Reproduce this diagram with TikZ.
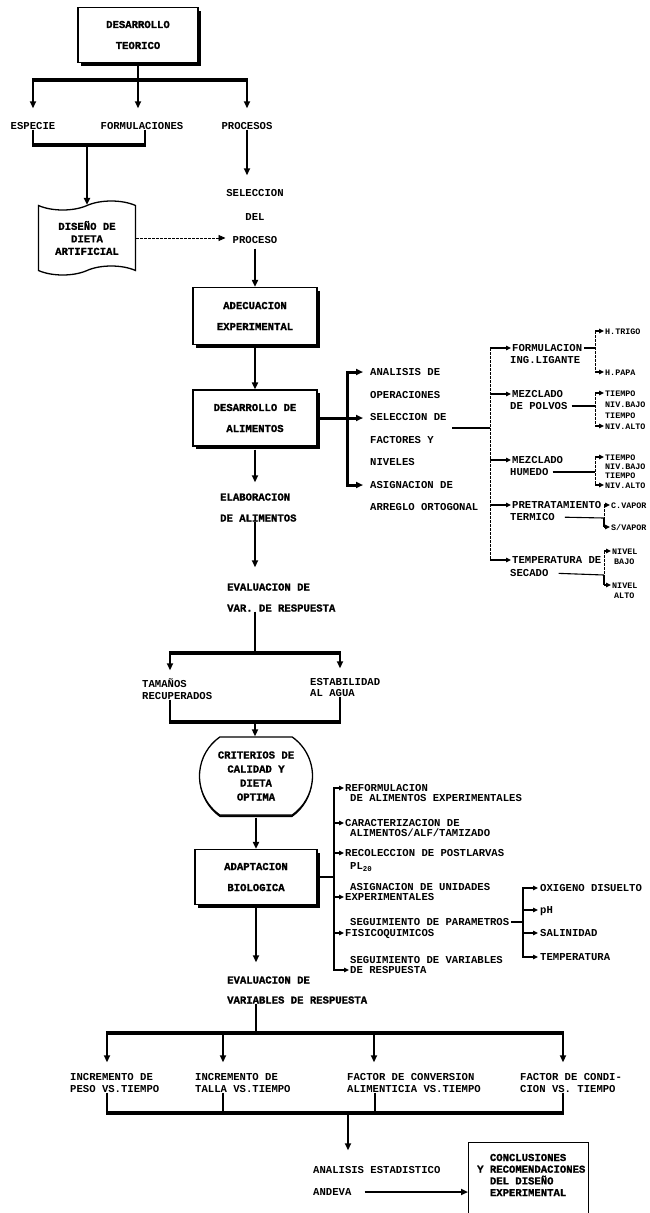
\documentclass[tikz,border=0pt]{standalone}
\usepackage{fontspec}
\setmainfont{Liberation Mono}
\newfontfamily\heavyfont{Liberation Mono}[BoldFeatures={FakeBold=1.3}]
\usetikzlibrary{arrows.meta,shapes.symbols,shapes.misc,shadows}
\begin{document}
\begin{tikzpicture}[x=1pt,y=-1pt,
  txt/.style={font=\fontsize{10.6}{12}\selectfont\bfseries, inner sep=0pt, text height=7pt, text depth=0pt},
  lt/.style={txt, anchor=west},
  ct/.style={txt, anchor=center},
  hlt/.style={lt, font=\fontsize{10.6}{12}\selectfont\heavyfont\bfseries},
  rt/.style={anchor=west, inner sep=0pt, text height=6pt, text depth=0pt, font=\fontsize{8.4}{10}\selectfont\bfseries},
  bar/.style={line width=4.5pt, shorten <=-1.2pt, shorten >=-1.2pt},
  vline/.style={line width=2.4pt},
  hvy/.style={line width=3pt},
  med/.style={line width=1.8pt},
  fine/.style={line width=1.1pt},
  dsh/.style={line width=0.9pt, dash pattern=on 2.5pt off 1.5pt},
  arr/.style={-{Triangle[length=7pt,width=6pt]}},
  sarr/.style={-{Triangle[length=5pt,width=4.5pt]}},
  sbox/.style={draw, line width=1.2pt, fill=white, minimum width=122pt, minimum height=55pt, align=center, inner sep=0pt, font=\fontsize{10.6}{21}\selectfont\heavyfont\bfseries, drop shadow={shadow xshift=3pt, shadow yshift=-3pt, fill=black, opacity=1}},
]
\fill[white] (0,0) rectangle (649,1213);
\useasboundingbox (0,0) rectangle (649,1213);

% ---------- top ----------
\node[sbox, minimum width=120pt] (A) at (138,35) {DESARROLLO\\TEORICO};
\node[ct] (esp) at (33,126) {ESPECIE};
\node[ct] (form) at (142,126) {FORMULACIONES};
\node[ct] (proc) at (247,126) {PROCESOS};
\coordinate (b1) at (138,80);
\coordinate (b1L) at (33,80);
\coordinate (b1R) at (247,80);
\draw[vline] (A.south) -- (b1);
\draw[bar] (b1L) -- (b1R);
\draw[vline,arr,shorten >=14pt] (b1L) -- (esp.north);
\draw[vline,arr,shorten >=14pt] (b1) -- (b1 |- form.north);
\draw[vline,arr,shorten >=14pt] (b1R) -- (proc.north);

\coordinate (j1L) at (33,145);
\coordinate (j1R) at (145,145);
\coordinate (j1) at (87,145);
\draw[vline] (esp.south) -- (j1L);
\draw[vline] (j1R |- form.south) -- (j1R);
\draw[bar] (j1L) -- (j1R);
\node[tape, draw, line width=1.3pt, fill=white, minimum width=97pt, minimum height=74pt,
  tape bend top=in and out, tape bend bottom=in and out, tape bend height=9pt,
  align=center, inner sep=0pt, font=\fontsize{10.6}{12.5}\selectfont\heavyfont\bfseries] (tape) at (87,238) {DISEÑO DE\\DIETA\\ARTIFICIAL};
\draw[vline,arr] (j1) -- (tape.north);

\node[ct] (sel1) at (255,193) {SELECCION};
\node[ct] (sel2) at (255,217) {DEL};
\node[ct] (sel3) at (255,240) {PROCESO};
\draw[vline,arr,shorten >=14pt] (proc.south) -- (proc.south |- sel1.north);
\draw[dsh,arr,shorten >=7pt] (tape.east) -- (tape.east -| sel3.west);

\node[sbox, minimum width=124pt, minimum height=57pt] (B) at (255,316) {ADECUACION\\EXPERIMENTAL};
\draw[vline,arr,shorten <=5pt] (sel3.south) -- (B.north);
\node[sbox, minimum width=124pt, minimum height=56pt] (C) at (255,418) {DESARROLLO DE\\ALIMENTOS};
\draw[vline,arr,shorten <=3pt] (B.south) -- (C.north);

\node[hlt] (el1) at (220,497) {ELABORACION};
\node[hlt] (el2) at (220,518) {DE ALIMENTOS};
\draw[vline,arr,shorten <=3pt,shorten >=11pt] (C.south) -- (C.south |- el1.north);
\node[hlt] (ev1) at (227,587) {EVALUACION DE};
\node[hlt] (ev2) at (227,608) {VAR. DE RESPUESTA};
\draw[vline,arr,shorten >=16pt] (C.south |- el2.south) -- (C.south |- ev1.north);

% ---------- right of C ----------
\coordinate (k1m) at (347,418);
\draw[hvy] (C.east) -- (k1m);
\node[lt] (r1) at (370,372) {ANALISIS DE};
\node[lt] (r2) at (370,395) {OPERACIONES};
\node[lt] (r3) at (370,417) {SELECCION DE};
\node[lt] (r4) at (370,440) {FACTORES Y};
\node[lt] (r5) at (370,462) {NIVELES};
\node[lt] (r6) at (370,485) {ASIGNACION DE};
\node[lt] (r7) at (370,507) {ARREGLO ORTOGONAL};
\draw[hvy,arr,shorten >=7pt] (k1m) |- (r1.west);
\draw[hvy,arr,shorten >=7pt] (k1m) |- (r6.west);
\draw[hvy,arr,shorten >=7pt] (k1m) -- (k1m -| r3.west);

\coordinate (s1) at (452,428);
\coordinate (k2m) at (490,428);
\coordinate (k2t) at (490,348);
\coordinate (k2b) at (490,560);
\draw[fine] (s1) -- (k2m);
\draw[dsh] (k2t) -- (k2b);
\node[lt] (q1a) at (512,348) {FORMULACION};
\node[lt] (q1b) at (510,360) {ING.LIGANTE};
\node[lt] (q2a) at (512,394) {MEZCLADO};
\node[lt] (q2b) at (510,406) {DE POLVOS};
\node[lt] (q3a) at (512,460) {MEZCLADO};
\node[lt] (q3b) at (510,472) {HUMEDO};
\node[lt] (q4a) at (512,505) {PRETRATAMIENTO};
\node[lt] (q4b) at (510,517) {TERMICO};
\node[lt] (q5a) at (512,560) {TEMPERATURA DE};
\node[lt] (q5b) at (510,573) {SECADO};
\foreach \q in {q1a,q2a,q3a,q4a,q5a}{
  \draw[fine,sarr,shorten >=1pt] (k2m |- \q.west) -- (\q.west);
}

% group 1
\coordinate (g1) at (595,348);
\coordinate (g1t) at (595,331);
\coordinate (g1b) at (595,372);
\draw[fine,shorten <=2pt] (q1a.east) -- (g1);
\draw[dsh] (g1t) -- (g1b);
\node[rt] (t11) at (605,331) {H.TRIGO};
\node[rt] (t12) at (605,372) {H.PAPA};
\draw[fine,sarr,shorten >=1pt] (g1t) -- (t11.west);
\draw[fine,sarr,shorten >=1pt] (g1b) -- (t12.west);
% group 2
\coordinate (g2) at (595,406);
\coordinate (g2t) at (595,393);
\coordinate (g2b) at (595,426);
\draw[fine,shorten <=4pt] (q2b.east) -- (g2);
\draw[dsh] (g2t) -- (g2b);
\node[rt] (t21) at (605,393) {TIEMPO};
\node[rt] (t22) at (605,404) {NIV.BAJO};
\node[rt] (t23) at (605,415) {TIEMPO};
\node[rt] (t24) at (605,426) {NIV.ALTO};
\draw[fine,sarr,shorten >=1pt] (g2t) -- (t21.west);
\draw[fine,sarr,shorten >=1pt] (g2b) -- (t24.west);
% group 3
\coordinate (g3) at (595,472);
\coordinate (g3t) at (595,457);
\coordinate (g3b) at (595,485);
\draw[fine,shorten <=4pt] (q3b.east) -- (g3);
\draw[dsh] (g3t) -- (g3b);
\node[rt] (t31) at (605,457) {TIEMPO};
\node[rt] (t32) at (605,466) {NIV.BAJO};
\node[rt] (t33) at (605,475) {TIEMPO};
\node[rt] (t34) at (605,485) {NIV.ALTO};
\draw[fine,sarr,shorten >=1pt] (g3t) -- (t31.west);
\draw[fine,sarr,shorten >=1pt] (g3b) -- (t34.west);
% group 4
\coordinate (g4) at (604,518);
\coordinate (g4t) at (604,505);
\coordinate (g4b) at (604,527);
\draw[fine,shorten <=10pt] (q4b.east) -- (g4);
\draw[dsh] (g4t) -- (g4);
\draw[fine] (g4) -- (g4b);
\node[rt] (t41) at (611,505) {C.VAPOR};
\node[rt] (t42) at (611,527) {S/VAPOR};
\draw[fine,sarr,shorten >=1pt] (g4t) -- (t41.west);
\draw[fine,sarr,shorten >=1pt] (g4b) -- (t42.west);
% group 5
\coordinate (g5) at (604,575);
\coordinate (g5t) at (604,551);
\coordinate (g5b) at (604,585);
\draw[fine,shorten <=10pt] (q5b.east) -- (g5);
\draw[dsh] (g5t) -- (g5);
\draw[fine] (g5) -- (g5b);
\node[rt] (t51) at (612,551) {NIVEL};
\node[rt] (t52) at (614,561) {BAJO};
\node[rt] (t53) at (612,585) {NIVEL};
\node[rt] (t54) at (614,595) {ALTO};
\draw[fine,sarr,shorten >=1pt] (g5t) -- (t51.west);
\draw[fine,sarr,shorten >=1pt] (g5b) -- (t53.west);

% ---------- middle ----------
\coordinate (b2) at (255,653);
\coordinate (b2L) at (170,653);
\coordinate (b2R) at (340,653);
\draw[vline] (C.south |- ev2.south) -- (b2);
\draw[bar] (b2L) -- (b2R);
\node[lt] (tm1) at (142,684) {TAMAÑOS};
\node[lt] (tm2) at (142,696) {RECUPERADOS};
\node[lt] (es1) at (310,682) {ESTABILIDAD};
\node[lt] (es2) at (310,693) {AL AGUA};
\draw[vline,arr,shorten >=10pt] (b2L) -- (b2L |- tm1.north);
\draw[vline,arr,shorten >=10pt] (b2R) -- (b2R |- es1.north);
\coordinate (b3) at (255,722);
\coordinate (b3L) at (170,722);
\coordinate (b3R) at (340,722);
\draw[vline] (b3L |- tm2.south) -- (b3L);
\draw[vline] (b3R |- es2.south) -- (b3R);
\draw[bar] (b3L) -- (b3R);
\node[draw, rounded rectangle, rounded rectangle arc length=110, line width=1.3pt, fill=white,
  minimum width=113pt, minimum height=78pt, align=center, inner sep=0pt,
  font=\fontsize{10.6}{14}\selectfont\heavyfont\bfseries,
  drop shadow={shadow xshift=0pt, shadow yshift=-2pt, fill=black, opacity=1}] (D) at (256,776) {CRITERIOS DE\\CALIDAD Y\\DIETA\\OPTIMA};
\draw[vline,arr] (b3) -- (b3 |- D.north);

\node[sbox] (E) at (256,877) {ADAPTACION\\BIOLOGICA};
\draw[vline,arr,shorten <=2pt] (D.south) -- (E.north);

% ---------- right of E ----------
\coordinate (k4m) at (334,877);
\draw[med] (E.east) -- (k4m);
\node[lt] (u1a) at (345,788) {REFORMULACION};
\node[lt] (u1b) at (350,798) {DE ALIMENTOS EXPERIMENTALES};
\node[lt] (u2a) at (345,823) {CARACTERIZACION DE};
\node[lt] (u2b) at (350,833) {ALIMENTOS/ALF/TAMIZADO};
\node[lt] (u3a) at (345,853) {RECOLECCION DE POSTLARVAS};
\node[lt] (u3b) at (350,866) {PL\textsubscript{20}};
\node[lt] (u4a) at (350,887) {ASIGNACION DE UNIDADES};
\node[lt] (u4b) at (345,897) {EXPERIMENTALES};
\node[lt] (u5a) at (350,922) {SEGUIMIENTO DE PARAMETROS};
\node[lt] (u5b) at (345,933) {FISICOQUIMICOS};
\node[lt] (u6a) at (350,960) {SEGUIMIENTO DE VARIABLES};
\node[lt] (u6b) at (350,970) {DE RESPUESTA};
\draw[med,sarr,shorten >=1pt] (k4m) |- (u1a.west);
\draw[med,sarr,shorten >=1pt] (k4m) |- (u6b.west);
\foreach \u in {u2a,u3a,u4b,u5b}{
  \draw[med,sarr,shorten >=1pt] (k4m |- \u.west) -- (\u.west);
}
\coordinate (k5m) at (523,922);
\draw[fine,shorten <=2pt] (u5a.east) -- (k5m);
\node[lt] (v1) at (540,888) {OXIGENO DISUELTO};
\node[lt] (v2) at (540,910) {pH};
\node[lt] (v3) at (540,933) {SALINIDAD};
\node[lt] (v4) at (540,957) {TEMPERATURA};
\draw[fine,sarr,shorten >=2pt] (k5m) |- (v1.west);
\draw[fine,sarr,shorten >=2pt] (k5m) |- (v4.west);
\draw[fine,sarr,shorten >=2pt] (k5m |- v2.west) -- (v2.west);
\draw[fine,sarr,shorten >=2pt] (k5m |- v3.west) -- (v3.west);

% ---------- bottom ----------
\node[hlt] (ev3) at (227,980) {EVALUACION DE};
\node[hlt] (ev4) at (227,1000) {VARIABLES DE RESPUESTA};
\draw[vline,arr,shorten <=3pt,shorten >=14pt] (E.south) -- (E.south |- ev3.north);
\coordinate (b4) at (256,1033);
\coordinate (b4a) at (107,1033);
\coordinate (b4b) at (223,1033);
\coordinate (b4c) at (374,1033);
\coordinate (b4d) at (563,1033);
\draw[vline] (E.south |- ev4.south) -- (b4);
\draw[bar] (b4a) -- (b4d);
\node[lt] (p1a) at (70,1077) {INCREMENTO DE};
\node[lt] (p1b) at (70,1089) {PESO VS.TIEMPO};
\node[lt] (p2a) at (195,1077) {INCREMENTO DE};
\node[lt] (p2b) at (195,1089) {TALLA VS.TIEMPO};
\node[lt] (p3a) at (347,1077) {FACTOR DE CONVERSION};
\node[lt] (p3b) at (347,1089) {ALIMENTICIA VS.TIEMPO};
\node[lt] (p4a) at (520,1077) {FACTOR DE CONDI-};
\node[lt] (p4b) at (520,1089) {CION VS. TIEMPO};
\draw[vline,arr,shorten >=11pt] (b4a) -- (b4a |- p1a.north);
\draw[vline,arr,shorten >=11pt] (b4b) -- (b4b |- p2a.north);
\draw[vline,arr,shorten >=11pt] (b4c) -- (b4c |- p3a.north);
\draw[vline,arr,shorten >=11pt] (b4d) -- (b4d |- p4a.north);
\coordinate (b5a) at (107,1113);
\coordinate (b5b) at (223,1113);
\coordinate (b5c) at (375,1113);
\coordinate (b5d) at (563,1113);
\coordinate (b5m) at (348,1113);
\draw[vline] (b5a |- p1b.south) -- (b5a);
\draw[vline] (b5b |- p2b.south) -- (b5b);
\draw[vline] (b5c |- p3b.south) -- (b5c);
\draw[vline] (b5d |- p4b.south) -- (b5d);
\draw[bar] (b5a) -- (b5d);
\node[lt] (an1) at (313,1170) {ANALISIS ESTADISTICO};
\node[lt] (an2) at (313,1192) {ANDEVA};
\draw[vline,arr,shorten >=16pt] (b5m) -- (b5m |- an1.north);
\node[draw, line width=1.3pt, minimum width=120pt, minimum height=98pt, anchor=north west, inner sep=0pt] (F) at (468,1142) {};
\node[anchor=west, align=left, inner sep=0pt, font=\fontsize{10.6}{11.7}\selectfont\heavyfont\bfseries] (Ft) at (477,1175)
  {\phantom{Y\ }CONCLUSIONES\\Y RECOMENDACIONES\\\phantom{Y\ }DEL DISEÑO\\\phantom{Y\ }EXPERIMENTAL};
\draw[line width=2pt,arr,shorten <=13pt] (an2.east) -- (an2.east -| F.west);
\end{tikzpicture}
\end{document}
